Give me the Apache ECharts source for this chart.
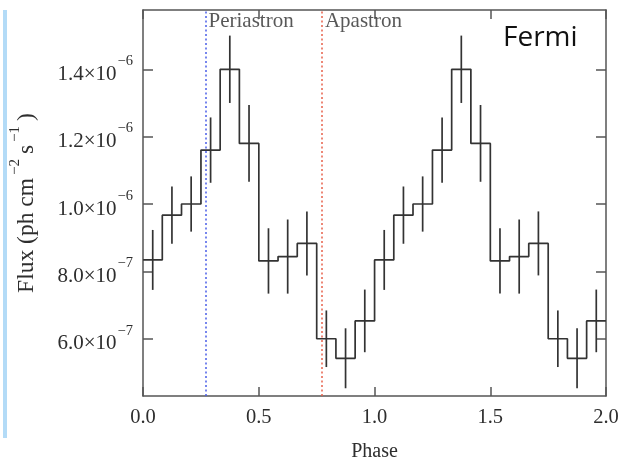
<!DOCTYPE html>
<html><head><meta charset="utf-8">
<script src="https://cdn.jsdelivr.net/npm/echarts@6/dist/echarts.min.js"></script>
<style>html,body{margin:0;padding:0;background:#fff}#c{width:619px;height:462px}</style>
</head><body><div id="c"></div>
<script>
// ---- data ----
const binWidth = 1 / 12;
const phaseCenters = [0.042, 0.125, 0.208, 0.292, 0.375, 0.458, 0.542, 0.625, 0.708, 0.792, 0.875, 0.958,
                      1.042, 1.125, 1.208, 1.292, 1.375, 1.458, 1.542, 1.625, 1.708, 1.792, 1.875, 1.958];
const flux = [8.34e-7, 9.67e-7, 1.00e-6, 1.16e-6, 1.40e-6, 1.18e-6, 8.31e-7, 8.44e-7, 8.83e-7, 6.00e-7, 5.42e-7, 6.53e-7,
              8.34e-7, 9.67e-7, 1.00e-6, 1.16e-6, 1.40e-6, 1.18e-6, 8.31e-7, 8.44e-7, 8.83e-7, 6.00e-7, 5.42e-7, 6.53e-7];
const fluxErr = [0.89e-7, 0.85e-7, 0.82e-7, 0.97e-7, 1.00e-7, 1.14e-7, 0.97e-7, 1.10e-7, 0.95e-7, 0.84e-7, 0.89e-7, 0.93e-7,
                 0.89e-7, 0.85e-7, 0.82e-7, 0.97e-7, 1.00e-7, 1.14e-7, 0.97e-7, 1.10e-7, 0.95e-7, 0.84e-7, 0.89e-7, 0.93e-7];
const markerNames = ['Periastron', 'Apastron'];
const markerPhases = [0.27, 0.773];
const markerColors = ['#4a5ee8', '#e8604a'];
const xTickValues = [0, 0.5, 1.0, 1.5, 2.0];
const yTickValues = [6e-7, 8e-7, 1.0e-6, 1.2e-6, 1.4e-6];
const yTickMantissa = ['6.0', '8.0', '1.0', '1.2', '1.4'];
const yTickExponent = ['−7', '−7', '−6', '−6', '−6'];
const xRange = [0, 2];
const yRange = [4.30e-7, 1.576e-6];

// ---- build ----
const stepData = phaseCenters.map((c, i) => [c - binWidth / 2, flux[i]]);
stepData.push([phaseCenters[phaseCenters.length - 1] + binWidth / 2, flux[flux.length - 1]]);
const errData = phaseCenters.map((c, i) => [c, flux[i] - fluxErr[i], flux[i] + fluxErr[i]]);

const serif = 'Liberation Serif';
const txt = '#2e2e2e';
const axisCol = '#555';
const tickRich = {
  m: { fontFamily: serif, fontSize: 21, color: txt, padding: [10, 0, 0, 0] },
  e: { fontFamily: serif, fontSize: 14.5, color: txt, verticalAlign: 'top', padding: [0, 0, 0, 1] }
};
const nameRich = {
  m: { fontFamily: serif, fontSize: 23.5, color: txt, padding: [7, 0, 0, 0] },
  e: { fontFamily: serif, fontSize: 15, color: txt, verticalAlign: 'top', padding: [0, 5, 0, 3] }
};

const chart = echarts.init(document.getElementById('c'), null, { renderer: 'canvas' });
chart.setOption({
  animation: false,
  backgroundColor: '#fff',
  grid: { left: 143, right: 13, top: 10, bottom: 66, containLabel: false, outerBoundsMode: 'none' },
  xAxis: [{
    type: 'value', min: xRange[0], max: xRange[1], interval: 0.5, position: 'bottom',
    name: 'Phase', nameLocation: 'middle', nameGap: 46,
    nameTextStyle: { fontFamily: serif, fontSize: 20, color: txt },
    axisLine: { show: true, onZero: false, lineStyle: { color: axisCol, width: 1.5 } },
    axisTick: { show: true, inside: true, length: 9, lineStyle: { color: axisCol, width: 1.5 } },
    axisLabel: { margin: 11, fontFamily: serif, fontSize: 20.5, color: txt, formatter: v => v.toFixed(1) },
    splitLine: { show: false }
  }, {
    type: 'value', min: xRange[0], max: xRange[1], interval: 0.5, position: 'top',
    axisLine: { show: true, onZero: false, lineStyle: { color: axisCol, width: 1.5 } },
    axisTick: { show: true, inside: true, length: 9, lineStyle: { color: axisCol, width: 1.5 } },
    axisLabel: { show: false }, splitLine: { show: false }
  }],
  yAxis: [{
    type: 'value', min: yRange[0], max: yRange[1], position: 'left',
    name: '{m|Flux (ph cm}{e|−2}{m|s}{e|−1}{m|)}',
    nameLocation: 'middle', nameGap: 104, nameRotate: 90,
    nameTextStyle: { rich: nameRich },
    axisLine: { show: true, onZero: false, lineStyle: { color: axisCol, width: 1.5 } },
    axisTick: { show: true, inside: true, length: 10, customValues: yTickValues, lineStyle: { color: axisCol, width: 1.5 } },
    axisLabel: {
      margin: 10, customValues: yTickValues, rich: tickRich,
      formatter: v => {
        const i = yTickValues.findIndex(t => Math.abs(t - v) < 1e-12);
        return i < 0 ? '' : '{m|' + yTickMantissa[i] + '×10}{e|' + yTickExponent[i] + '}';
      }
    },
    splitLine: { show: false }
  }, {
    type: 'value', min: yRange[0], max: yRange[1], position: 'right',
    axisLine: { show: true, onZero: false, lineStyle: { color: axisCol, width: 1.5 } },
    axisTick: { show: true, inside: true, length: 10, customValues: yTickValues, lineStyle: { color: axisCol, width: 1.5 } },
    axisLabel: { show: false }, splitLine: { show: false }
  }],
  graphic: [
    { type: 'rect', left: 3, top: 10, shape: { width: 4, height: 428 }, style: { fill: '#b3dbf7' }, silent: true },
    { type: 'text', left: 503, top: 24, style: { text: 'Fermi', fontFamily: 'Open Sans', fontSize: 28, fill: '#111' } }
  ],
  series: [{
    type: 'line', xAxisIndex: 0, yAxisIndex: 0, step: 'end', data: stepData,
    symbol: 'none', lineStyle: { color: '#333', width: 1.7 }, z: 3,
    markLine: {
      symbol: 'none', silent: true, label: { show: false },
      data: markerPhases.map((p, i) => ({ xAxis: p, lineStyle: { color: markerColors[i], width: 1.5, type: [2, 2.5] } }))
    }
  }, {
    type: 'custom', xAxisIndex: 0, yAxisIndex: 0, data: errData, z: 3,
    renderItem: (params, api) => {
      const a = api.coord([api.value(0), api.value(1)]);
      const b = api.coord([api.value(0), api.value(2)]);
      return { type: 'line', shape: { x1: a[0], y1: a[1], x2: b[0], y2: b[1] }, style: { stroke: '#333', lineWidth: 1.7 } };
    }
  }, {
    type: 'scatter', xAxisIndex: 0, yAxisIndex: 0, symbolSize: 0, z: 4,
    data: markerPhases.map((p, i) => ({ value: [p, yRange[1]], name: markerNames[i] })),
    label: {
      show: true, position: [3, 1], align: 'left', verticalAlign: 'top',
      formatter: p => p.name, fontFamily: serif, fontSize: 21, color: txt
    }
  }]
});
</script></body></html>
